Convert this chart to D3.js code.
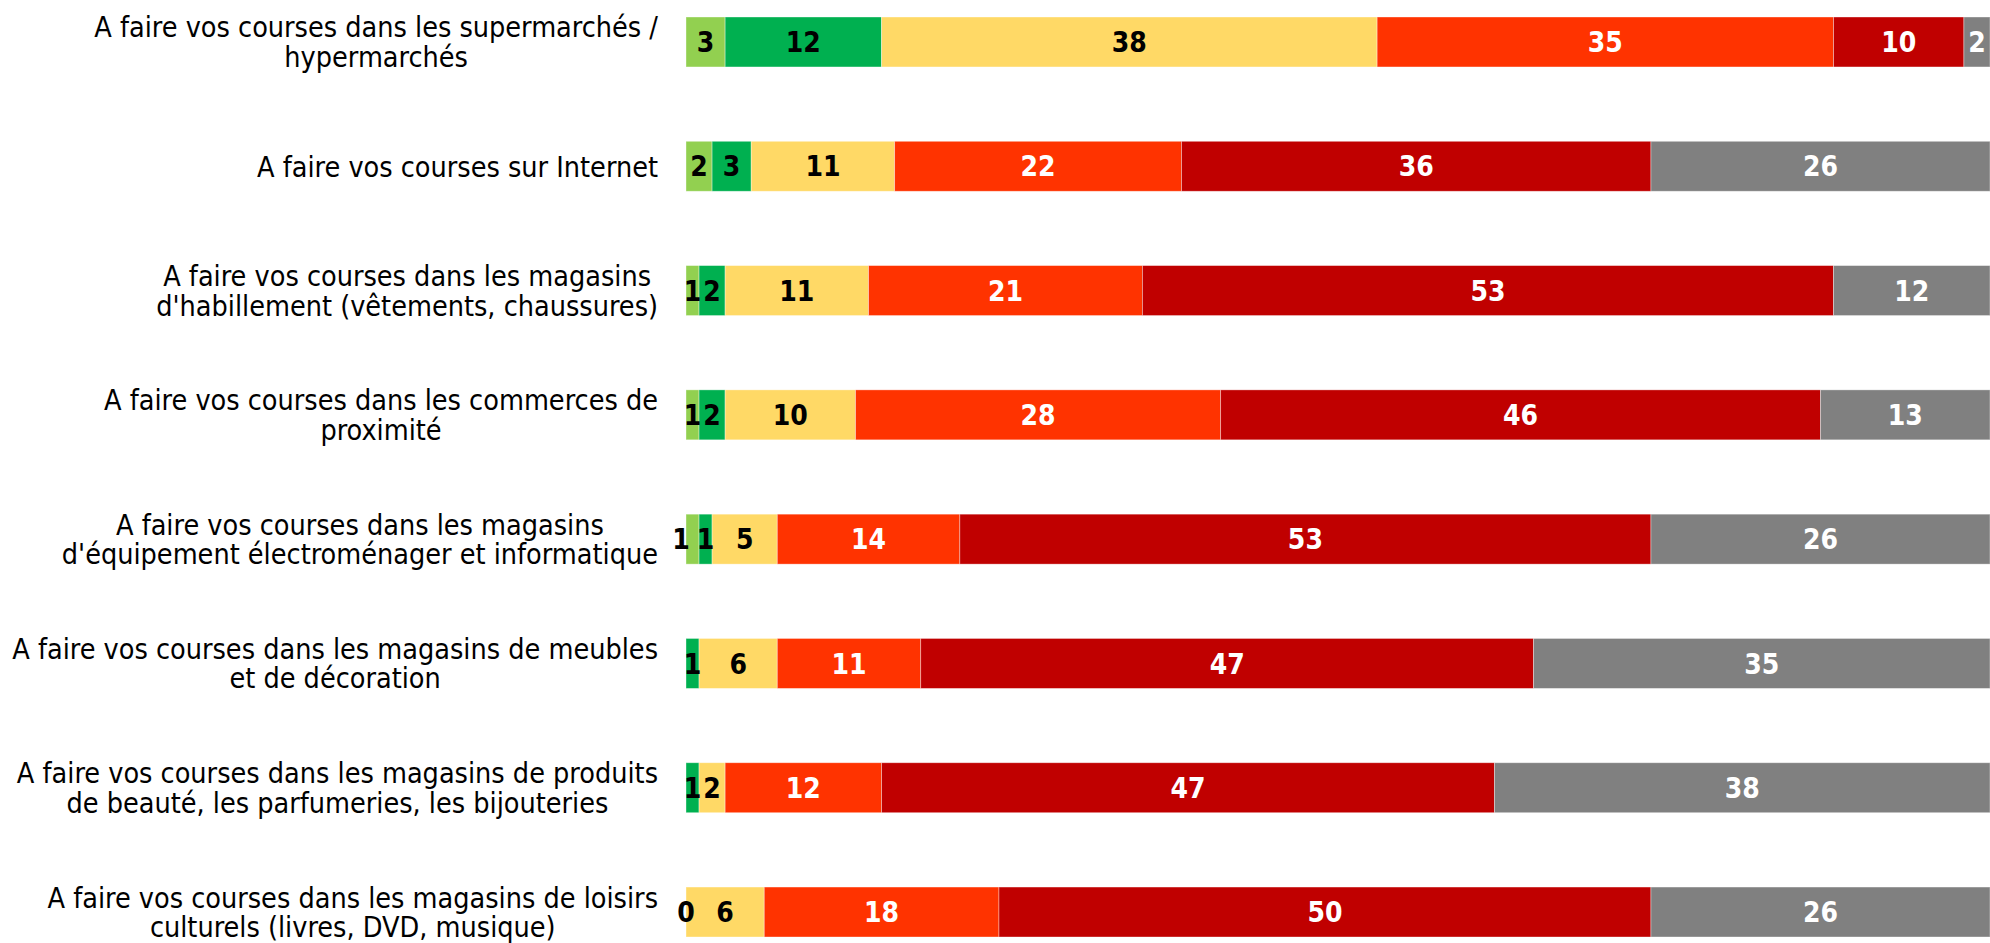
<!DOCTYPE html>
<html>
<head>
<meta charset="utf-8">
<script src="https://cdn.jsdelivr.net/npm/d3@7"></script>
<style>
  html, body { margin: 0; padding: 0; background: #fff; }
  svg { display: block; }
</style>
</head>
<body>
<svg id="chart" width="1990" height="943"></svg>
<script>
// ---- data ----
const categories = [
  "A faire vos courses dans les supermarchés /\nhypermarchés",
  "A faire vos courses sur Internet",
  "A faire vos courses dans les magasins\nd'habillement (vêtements, chaussures)",
  "A faire vos courses dans les commerces de\nproximité",
  "A faire vos courses dans les magasins\nd'équipement électroménager et informatique",
  "A faire vos courses dans les magasins de meubles\net de décoration",
  "A faire vos courses dans les magasins de produits\nde beauté, les parfumeries, les bijouteries",
  "A faire vos courses dans les magasins de loisirs\nculturels (livres, DVD, musique)"
];
const seriesLightGreen = [3, 2, 1, 1, 1, null, null, null];
const seriesGreen      = [12, 3, 2, 2, 1, 1, 1, 0];
const seriesYellow     = [38, 11, 11, 10, 5, 6, 2, 6];
const seriesOrange     = [35, 22, 21, 28, 14, 11, 12, 18];
const seriesDarkRed    = [10, 36, 53, 46, 53, 47, 47, 50];
const seriesGrey       = [2, 26, 12, 13, 26, 35, 38, 26];

const seriesList = [seriesLightGreen, seriesGreen, seriesYellow, seriesOrange, seriesDarkRed, seriesGrey];
const colors = ["#92D050", "#00B050", "#FFD966", "#FF3300", "#C00000", "#808080"];
const labelColors = ["#000", "#000", "#000", "#fff", "#fff", "#fff"];

// ---- layout ----
const svg = d3.select("#chart");
const x = d3.scaleLinear().domain([0, 100]).range([686, 1990]);
const y = d3.scaleBand().domain(categories).range([17, 937]).paddingInner(0.598).paddingOuter(0);

// build stacked segments
const segs = [];
categories.forEach((c, i) => {
  let acc = 0;
  seriesList.forEach((s, k) => {
    const v = s[i];
    if (v === null || v === undefined) return;
    segs.push({cat: c, row: i, k, v, x0: acc, x1: acc + v});
    acc += v;
  });
});

svg.append("g").selectAll("rect").data(segs).join("rect")
  .attr("x", d => x(d.x0))
  .attr("y", d => y(d.cat))
  .attr("width", d => x(d.x1) - x(d.x0))
  .attr("height", y.bandwidth())
  .attr("fill", d => colors[d.k])
  .attr("stroke", "rgba(255,255,255,0.45)")
  .attr("stroke-width", 0.8);

const vl = svg.append("g").selectAll("text").data(segs).join("text")
  .attr("y", d => y(d.cat) + y.bandwidth() / 2)
  .attr("dy", "0.36em")
  .attr("text-anchor", "middle")
  .attr("font-family", "'DejaVu Sans Condensed', 'DejaVu Sans', sans-serif")
  .attr("font-weight", "bold")
  .attr("font-size", 28)
  .attr("fill", d => labelColors[d.k])
  .text(d => d.v);

// label placement with simple overlap avoidance (like the spreadsheet does)
vl.each(function (d) { d.cx = (x(d.x0) + x(d.x1)) / 2; d.w = this.getComputedTextLength(); });
categories.forEach((c, i) => {
  const rowSegs = segs.filter(s => s.row === i);
  for (let j = 1; j < rowSegs.length; j++) {
    const a = rowSegs[j - 1], b = rowSegs[j];
    const need = (a.w + b.w) / 2;
    if (b.cx - a.cx < need + 1.5) {
      const target = need + 7;
      if (b.v > a.v) b.cx = a.cx + target; else a.cx = b.cx - target;
    }
  }
});
vl.attr("x", d => d.cx);

// category labels: lines centered on each other, block right-aligned
const rightEdge = 658;
const lineH = 29.5;
const gl = svg.append("g");
categories.forEach(c => {
  const lines = c.split("\n");
  const cy = y(c) + y.bandwidth() / 2;
  const t = gl.append("text")
    .attr("font-family", "'DejaVu Sans Condensed', 'DejaVu Sans', sans-serif")
    .attr("font-size", 28.5)
    .attr("fill", "#000")
    .attr("text-anchor", "middle");
  lines.forEach((ln, j) => {
    t.append("tspan")
      .attr("y", cy + (j - (lines.length - 1) / 2) * lineH)
      .attr("dy", "0.36em")
      .text(ln);
  });
  let maxW = 0;
  t.selectAll("tspan").each(function () { maxW = Math.max(maxW, this.getComputedTextLength()); });
  t.selectAll("tspan").attr("x", rightEdge - maxW / 2);
});
</script>
</body>
</html>
